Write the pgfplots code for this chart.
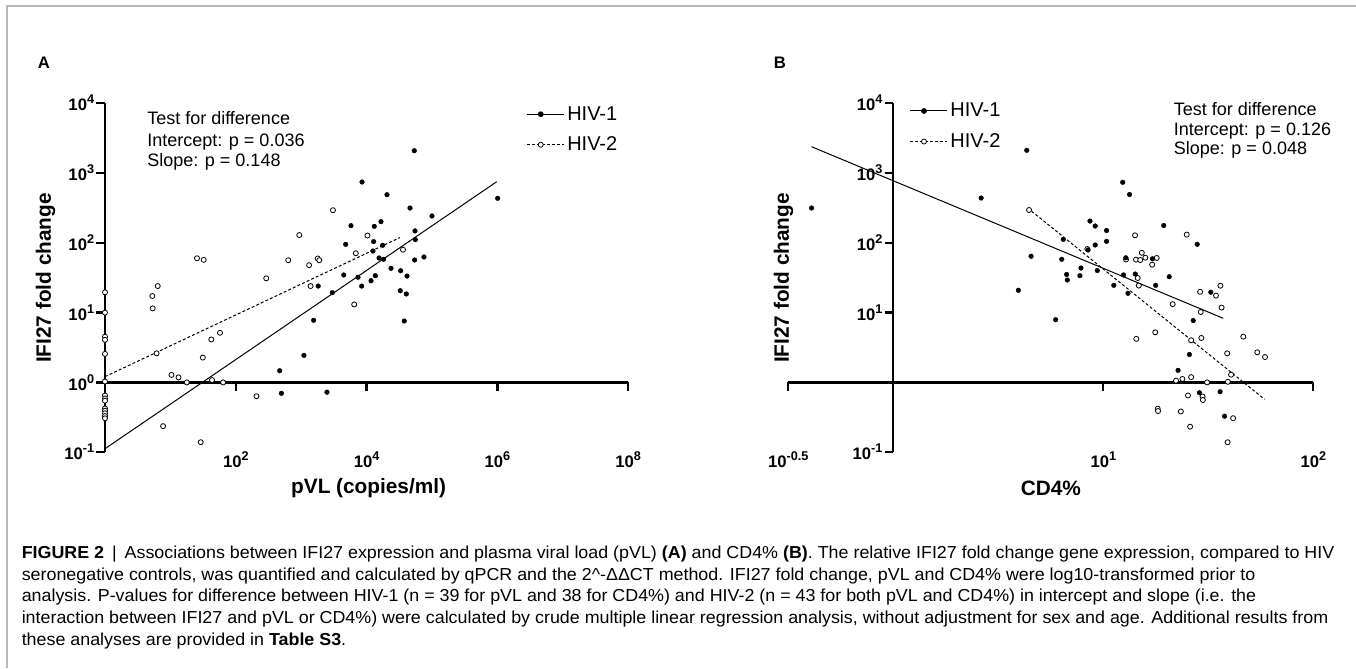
\documentclass[border=0pt]{standalone}
\usepackage{fontspec}
\setmainfont{Liberation Sans}
\usepackage{graphicx}
\usepackage{pgfplots}
\pgfplotsset{compat=1.18}

\newcommand\sups[1]{\raisebox{0.42em}{\fontsize{9.5}{10}\selectfont #1}}
\newcommand\tl[1]{10\sups{#1}}
\newcommand\lf{\fontsize{15}{17}\selectfont}
\newcommand\capf{\fontsize{13}{15}\selectfont}
\newsavebox\capA
\newsavebox\capB
\newsavebox\capC
\newsavebox\capD
\newsavebox\capE

\pgfplotsset{
  legend image code/.code={
      \path (0pt,0pt) -- (28pt,0pt);
      \draw[mark repeat=2,mark phase=2,#1] plot coordinates {(0pt,0pt) (10.5pt,0pt) (21pt,0pt)};},
}

\begin{document}%
\sbox\capA{\capf\textbf{FIGURE 2} \,|\, Associations between IFI27 expression and plasma viral load (pVL) \textbf{(A)} and CD4\% \textbf{(B)}. The relative IFI27 fold change gene expression, compared to HIV}%
\sbox\capB{\capf seronegative controls, was quantified and calculated by qPCR and the 2\textasciicircum-ΔΔCT method. IFI27 fold change, pVL and CD4\% were log10-transformed prior to}%
\sbox\capC{\capf analysis. P-values for difference between HIV-1 (n = 39 for pVL and 38 for CD4\%) and HIV-2 (n = 43 for both pVL and CD4\%) in intercept and slope (i.e. the}%
\sbox\capD{\capf interaction between IFI27 and pVL or CD4\%) were calculated by crude multiple linear regression analysis, without adjustment for sex and age. Additional results from}%
\sbox\capE{\capf these analyses are provided in \textbf{Table S3}.}%
\pgfmathsetmacro\capsx{984.4/\the\wd\capA}%
\begin{tikzpicture}
\begin{scope}[x=0.75pt, y=-0.75pt]
\draw[color=gray!55, line width=1.1pt] (7.2,668) -- (7.2,6) -- (1356,6);
\end{scope}

% ---------------- Panel A ----------------
\begin{axis}[at={(78.75pt,-339.15pt)}, anchor=south west,
  scale only axis, width=392.4pt, height=261.75pt,
  xmode=log, ymode=log, ymin=0.1, ymax=1e4,
  xmin=1, xmax=1e8,
  axis x line=middle, axis y line=left,
  axis line style={-, line width=1.7pt, black},
  tick style={line width=1.7pt, black},
  major tick length=6.5pt,
  minor tick length=0pt,
  tick align=outside,
  clip=false,
  ticklabel style={font=\bfseries\fontsize{12.5}{14}\selectfont},
  yticklabel style={inner xsep=1.5pt},
  xticklabel style={yshift=-42pt},
  legend style={draw=none, fill=none, anchor=west, row sep=7pt, at={(0.797,0.9246)}},
  legend cell align=left,
  xtick={1e2,1e4,1e6,1e8},
  xticklabels={\tl{2},\tl{4},\tl{6},\tl{8}},
  ytick={1e-1,1,1e1,1e2,1e3,1e4},
  yticklabels={\tl{-1},\tl{0},\tl{1},\tl{2},\tl{3},\tl{4}},
]
\addlegendimage{black, line width=0.75pt, mark=*, mark size=1.75pt, mark options={solid, fill=black}}
\addlegendentry{\lf HIV-1}
\addlegendimage{black, line width=0.75pt, dash pattern=on 2.2pt off 1.6pt, mark=*, mark size=1.9pt, mark options={solid, fill=white, line width=0.6pt}}
\addlegendentry{\lf HIV-2}

% x axis line at y = 1 with its ticks
\draw[line width=1.7pt, black] (axis cs:1,1) -- (axis cs:1e8,1);
\draw[line width=1.7pt, black] (axis cs:1e2,1) -- ++(0pt,-6.5pt);
\draw[line width=1.7pt, black] (axis cs:1e4,1) -- ++(0pt,-6.5pt);
\draw[line width=1.7pt, black] (axis cs:1e6,1) -- ++(0pt,-6.5pt);
\draw[line width=1.7pt, black] (axis cs:1e8,1) -- ++(0pt,-6.5pt);

\addplot[forget plot, black, line width=0.75pt] coordinates {(1,0.1122) (975000,750)};
\addplot[forget plot, black, line width=0.75pt, dash pattern=on 2.2pt off 1.6pt] coordinates {(1,1.21) (32400,119)};

\addplot[forget plot, only marks, mark=*, mark size=1.9pt, mark options={fill=white, draw=black, line width=0.6pt}] table {
x y
3060 293
935 129
10300 127
6840 70.8
36000 79.6
633 56.2
1320 47.8
1790 59.6
1890 56.3
1390 24.0
6460 13.1
292 31.0
25.5 60.0
32.3 57.1
6.40 24.0
5.29 17.3
5.36 11.5
57.3 5.14
42.2 4.12
31.3 2.27
6.15 2.61
10.4 1.28
13.3 1.18
17.8 1.00
43.3 1.08
64.0 1.00
207 0.634
7.73 0.236
29.1 0.139
1 19.5
1 10.0
1 4.52
1 4.08
1 2.56
1 1.03
1 0.649
1 0.588
1 0.547
1 0.423
1 0.393
1 0.361
1 0.330
1 0.306
};
\addplot[forget plot, only marks, mark=*, mark size=1.75pt, mark options={fill=black, draw=black, line width=0.3pt}] table {
x y
53600 2085
8510 743
20500 489
46100 315
100000 242
1010000 434
16600 201
5770 176
13100 172
55000 148
55600 111
4790 95.1
17600 92.1
12800 104
12500 76.3
15500 60.6
18200 58.0
54300 56.7
75400 62.6
23600 43.1
33200 39.8
41500 33.4
4470 34.6
7390 32.1
13600 33.8
11700 28.6
1820 24.0
8410 24.0
2990 19.3
32700 20.6
40500 18.5
1550 7.76
37700 7.58
1100 2.44
469 1.47
498 0.698
2480 0.724
};
\end{axis}

% ---------------- Panel B ----------------
\begin{axis}[at={(591.225pt,-339.15pt)}, anchor=south west,
  scale only axis, width=393.75pt, height=261.75pt,
  xmode=log, ymode=log, ymin=0.1, ymax=1e4,
  xmin=0.316227766, xmax=100,
  axis lines=middle,
  axis line style={-, line width=1.7pt, black},
  tick style={line width=1.7pt, black},
  major tick length=6.5pt,
  minor tick length=0pt,
  tick align=outside,
  clip=false,
  ticklabel style={font=\bfseries\fontsize{12.5}{14}\selectfont},
  yticklabel style={inner xsep=1.5pt},
  xticklabel style={yshift=-42pt},
  legend style={draw=none, fill=none, anchor=west, row sep=7pt, at={(0.2227,0.9338)}},
  legend cell align=left,
  xtick={0.316227766,10,100},
  xticklabels={\tl{-0.5},\tl{1},\tl{2}},
  ytick={1e-1,1e1,1e2,1e3,1e4},
  yticklabels={\tl{-1},\tl{1},\tl{2},\tl{3},\tl{4}},
]
\addlegendimage{black, line width=0.75pt, mark=*, mark size=1.75pt, mark options={solid, fill=black}}
\addlegendentry{\lf HIV-1}
\addlegendimage{black, line width=0.75pt, dash pattern=on 2.2pt off 1.6pt, mark=*, mark size=1.9pt, mark options={solid, fill=white, line width=0.6pt}}
\addlegendentry{\lf HIV-2}

\addplot[forget plot, black, line width=0.75pt] coordinates {(0.4077,2382) (37.27,8.28)};
\addplot[forget plot, black, line width=0.75pt, dash pattern=on 2.2pt off 1.6pt] coordinates {(4.556,283.7) (58.6,0.573)};

\addplot[forget plot, only marks, mark=*, mark size=1.9pt, mark options={fill=white, draw=black, line width=0.6pt}] table {
x y
4.43 295
8.39 81.5
14.16 128
24.96 131
15.25 71.9
14.31 57.3
14.99 56.7
15.85 61.2
17.96 60.6
17.09 48.6
12.83 57.6
14.58 31.3
14.76 24.4
21.4 13.2
28.9 19.9
36.1 24.3
34.4 17.5
36.6 11.8
29.1 10.2
17.67 5.22
14.36 4.21
29.3 4.33
26.2 4.01
46.4 4.52
54.1 2.70
58.9 2.31
38.9 2.61
40.6 1.29
26.2 1.19
23.8 1.12
22.2 1.06
31.2 1.00
39.2 1.02
25.3 0.649
29.7 0.628
29.8 0.560
18.16 0.420
18.22 0.389
23.4 0.383
25.9 0.232
41.5 0.307
39.1 0.139
};
\addplot[forget plot, only marks, mark=*, mark size=1.75pt, mark options={fill=black, draw=black, line width=0.3pt}] table {
x y
0.408 315
2.62 438
4.32 2115
12.37 736
13.33 492
8.64 205
9.15 174
10.36 150
10.36 105
19.4 177
6.45 112
9.15 93.0
8.46 78.9
4.53 64.1
6.34 58.0
12.80 61.0
17.15 59.0
6.69 35.2
7.83 43.5
6.74 29.3
7.74 33.8
9.36 40.1
12.48 34.6
14.20 35.7
20.6 32.7
11.22 24.6
13.11 18.9
17.76 24.6
3.94 20.9
5.93 7.91
28.0 95.2
32.5 19.6
26.8 7.70
25.7 2.51
22.7 1.49
28.7 0.711
36.0 0.736
37.8 0.328
};
\end{axis}

\begin{scope}[x=0.75pt, y=-0.75pt]
% panel letters
\node[font=\bfseries\fontsize{12.5}{14}\selectfont] at (44,63) {A};
\node[font=\bfseries\fontsize{12.5}{14}\selectfont] at (780,63) {B};
% axis labels
\node[rotate=90, font=\bfseries\fontsize{15.6}{18}\selectfont] at (45.5,278) {IFI27 fold change};
\node[rotate=90, font=\bfseries\fontsize{15.6}{18}\selectfont] at (783.5,278) {IFI27 fold change};
\node[font=\bfseries\fontsize{15.6}{18}\selectfont] at (368.6,488.3) {pVL (copies/ml)};
\node[font=\bfseries\fontsize{15.6}{18}\selectfont] at (1050.8,488.3) {CD4\%};
% test texts
\begin{scope}[every node/.style={anchor=base west, inner sep=0pt, font=\fontsize{13.5}{15}\selectfont}]
\node at (147,124.6) {Test for difference};
\node at (147,146) {Intercept: p = 0.036};
\node at (147,166.3) {Slope: p = 0.148};
\node at (1173.5,115.6) {Test for difference};
\node at (1173.5,135.6) {Intercept: p = 0.126};
\node at (1173.5,154.6) {Slope: p = 0.048};
\end{scope}
% caption
\begin{scope}[every node/.style={anchor=base west, inner sep=0pt}]
\node at (21.5,558) {\scalebox{\capsx}[1]{\usebox\capA}};
\node at (21.5,580) {\scalebox{\capsx}[1]{\usebox\capB}};
\node at (21.5,601.5) {\scalebox{\capsx}[1]{\usebox\capC}};
\node at (21.5,623) {\scalebox{\capsx}[1]{\usebox\capD}};
\node at (21.5,645) {\scalebox{\capsx}[1]{\usebox\capE}};
\end{scope}
\end{scope}
\pgfresetboundingbox
\path[use as bounding box] (0pt,0pt) rectangle (1017pt,-501pt);
\end{tikzpicture}%
\end{document}
